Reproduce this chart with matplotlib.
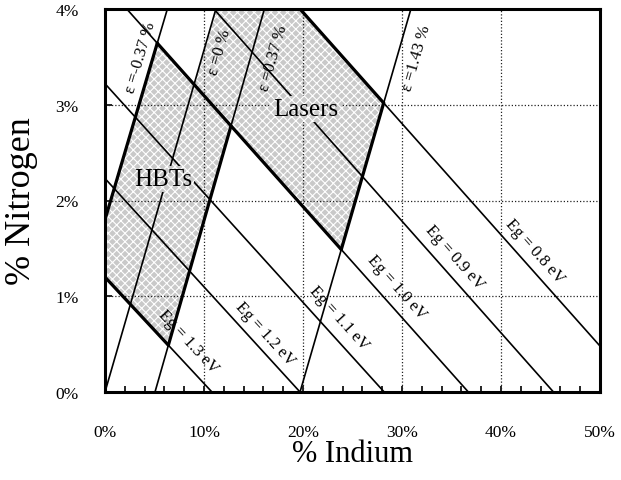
import numpy as np
import matplotlib
matplotlib.use("Agg")
import matplotlib.pyplot as plt
from matplotlib.patches import Polygon
from matplotlib.ticker import MultipleLocator

plt.rcParams['font.family'] = ['Liberation Serif', 'DejaVu Serif']
plt.rcParams['hatch.linewidth'] = 0.8

# Constant-bandgap contours, given by their two end points (In %, N %)
eg_values = [1.3, 1.2, 1.1, 1.0, 0.9, 0.8]
eg_start = [(0.0, 1.20), (0.0, 2.23), (0.0, 3.22), (2.2, 4.0), (11.0, 4.0), (19.7, 4.0)]
eg_end = [(10.8, 0.0), (19.7, 0.0), (28.2, 0.0), (36.7, 0.0), (45.3, 0.0), (50.0, 0.48)]

# Constant-strain contours (strain in %)
strain_values = [-0.37, 0.0, 0.37, 1.43]
strain_start = [(0.0, 1.80), (0.0, 0.0), (5.05, 0.0), (19.7, 0.0)]
strain_end = [(6.3, 4.0), (11.2, 4.0), (16.1, 4.0), (30.9, 4.0)]

# Axis ticks
in_ticks = [0, 10, 20, 30, 40, 50]
in_tick_labels = ['0%', '10%', '20%', '30%', '40%', '50%']
n_ticks = [0, 1, 2, 3, 4]
n_tick_labels = ['0%', '1%', '2%', '3%', '4%']

# Label anchor points (In %, N %)
eg_label_pos = [(8.4, 0.53), (16.2, 0.61), (23.6, 0.78), (29.5, 1.10), (35.35, 1.41), (43.4, 1.47)]
strain_label_pos = [(3.6, 3.50), (11.6, 3.56), (17.0, 3.50), (31.5, 3.50)]

SHADE = '#c9c9c9'
THIN = 1.2
THICK = 2.3


def meet(a, b):
    (x1, y1), (x2, y2) = a
    (x3, y3), (x4, y4) = b
    d = (x1 - x2) * (y3 - y4) - (y1 - y2) * (x3 - x4)
    t = ((x1 - x3) * (y3 - y4) - (y1 - y3) * (x3 - x4)) / d
    return (x1 + t * (x2 - x1), y1 + t * (y2 - y1))


eg_lines = list(zip(eg_start, eg_end))
eps_lines = list(zip(strain_start, strain_end))

eg13, eg10, eg08 = eg_lines[0], eg_lines[3], eg_lines[5]
eps_m, eps_0, eps_p, eps_hi = eps_lines

# HBT window
A = eg13[0]
B = meet(eg13, eps_p)
C = meet(eps_p, eg10)
D = meet(eg10, eps_m)
E = eps_m[0]
# Laser window
F = meet(eps_0, eg10)
G = eps_0[1]
H = eg08[0]
I = meet(eg08, eps_hi)
J = meet(eps_hi, eg10)

fig = plt.figure(figsize=(6.21, 4.81), dpi=100)
ax = fig.add_axes([105 / 621, 1 - 393 / 481, 495 / 621, 383 / 481])
ax.set_xlim(0, 50)
ax.set_ylim(0, 4)

hatch_kw = dict(facecolor=SHADE, edgecolor='white', linewidth=0, hatch='xxxx')
ax.add_patch(Polygon([A, B, C, D, E], closed=True, zorder=1, **hatch_kw))
ax.add_patch(Polygon([F, G, H, I, J], closed=True, zorder=1, **hatch_kw))

# dotted grid
for x in in_ticks[1:-1]:
    ax.axvline(x, color='#222222', lw=0.9, ls=(0, (1, 1.6)), zorder=2)
for y in n_ticks[1:-1]:
    ax.axhline(y, color='#222222', lw=0.9, ls=(0, (1, 1.6)), zorder=2)

for (p, q) in eg_lines + eps_lines:
    ax.plot([p[0], q[0]], [p[1], q[1]], color='black', lw=THIN, zorder=3,
            solid_capstyle='butt')

for (p, q) in [(E, D), (B, C), (J, I), (A, B), (D, J), (H, I)]:
    ax.plot([p[0], q[0]], [p[1], q[1]], color='black', lw=THICK, zorder=4,
            solid_capstyle='round')


def screen_angle(p, q):
    a = ax.transData.transform(p)
    b = ax.transData.transform(q)
    return np.degrees(np.arctan2(b[1] - a[1], b[0] - a[0]))


for v, (p, q), pos in zip(eg_values, eg_lines, eg_label_pos):
    ang = screen_angle(p, q)
    if ang > 90:
        ang -= 180
    elif ang < -90:
        ang += 180
    ax.text(pos[0], pos[1], f"Eg = {v:.1f} eV", rotation=ang, rotation_mode='anchor',
            ha='center', va='center', fontsize=12, zorder=5)

for v, (p, q), pos in zip(strain_values, eps_lines, strain_label_pos):
    ang = screen_angle(p, q)
    ax.text(pos[0], pos[1], f"ε ={v:g} %", rotation=ang, rotation_mode='anchor',
            ha='center', va='center', fontsize=12, zorder=5)

box_kw = dict(boxstyle='square,pad=0.08', facecolor=SHADE, edgecolor='white',
              linewidth=0, hatch='xxxx')
ax.text(5.86, 2.22, "HBTs", ha='center', va='center', fontsize=18, zorder=6, bbox=box_kw)
ax.text(20.3, 2.96, "Lasers", ha='center', va='center', fontsize=18, zorder=6, bbox=box_kw)

ax.set_xticks(in_ticks)
ax.set_xticklabels(in_tick_labels)
ax.set_yticks(n_ticks)
ax.set_yticklabels(n_tick_labels)
ax.xaxis.set_minor_locator(MultipleLocator(2))
ax.tick_params(axis='x', which='both', direction='in', length=4, width=1.2,
               top=False, pad=23, labelsize=12.5)
ax.tick_params(axis='y', which='both', direction='in', length=5, width=1.2,
               right=False, pad=19, labelsize=12.5)

for s in ax.spines.values():
    s.set_linewidth(2.2)
    s.set_zorder(7)

ax.set_xlabel("% Indium", fontsize=22)
ax.xaxis.set_label_coords(0.5, (393 - 455) / 383)
ax.xaxis.label.set_va('center')
ax.set_ylabel("% Nitrogen", fontsize=26)
ax.yaxis.set_label_coords((22 - 105) / 495, 0.5)
ax.yaxis.label.set_va('center')

fig.savefig("out.png", dpi=100)
